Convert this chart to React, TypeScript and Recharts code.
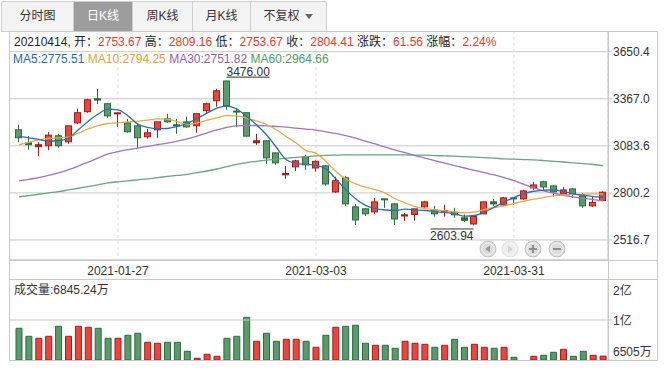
import React from "react";
import { ComposedChart, BarChart, Bar, Line, XAxis, YAxis, CartesianGrid, Cell, ReferenceLine } from "recharts";

const FONT = '"Liberation Sans", Arial, "Noto Sans CJK SC", sans-serif';
const UP = "#e8463e";
const UP_LINE = "#a11d1a";
const DOWN = "#5c9a6d";
const DOWN_LINE = "#2d6a3c";
const GRID = "#c9c9c9";

const dates = [
  "2021-01-13", "2021-01-14", "2021-01-15", "2021-01-18", "2021-01-19", "2021-01-20", "2021-01-21", "2021-01-22", "2021-01-25", "2021-01-26",
  "2021-01-27", "2021-01-28", "2021-01-29", "2021-02-01", "2021-02-02", "2021-02-03", "2021-02-04", "2021-02-05", "2021-02-08", "2021-02-09",
  "2021-02-10", "2021-02-18", "2021-02-19", "2021-02-22", "2021-02-23", "2021-02-24", "2021-02-25", "2021-02-26", "2021-03-01", "2021-03-02",
  "2021-03-03", "2021-03-04", "2021-03-05", "2021-03-08", "2021-03-09", "2021-03-10", "2021-03-11", "2021-03-12", "2021-03-15", "2021-03-16",
  "2021-03-17", "2021-03-18", "2021-03-19", "2021-03-22", "2021-03-23", "2021-03-24", "2021-03-25", "2021-03-26", "2021-03-29", "2021-03-30",
  "2021-03-31", "2021-04-01", "2021-04-02", "2021-04-06", "2021-04-07", "2021-04-08", "2021-04-09", "2021-04-12", "2021-04-13", "2021-04-14",
];

const openP = [
  3180, 3102, 3078, 3084, 3144, 3108, 3222, 3289, 3367, 3337,
  3276, 3222, 3204, 3138, 3180, 3246, 3210, 3228, 3204, 3295,
  3355, 3474, 3293, 3283, 3102, 3114, 3041, 2909, 2957, 3017,
  2950, 2963, 2806, 2891, 2716, 2704, 2686, 2764, 2734, 2661,
  2670, 2716, 2698, 2686, 2684, 2650, 2613, 2674, 2746, 2728,
  2770, 2764, 2830, 2867, 2842, 2794, 2824, 2782, 2722, 2753.67,
];
const highP = [
  3210, 3142, 3106, 3166, 3156, 3204, 3307, 3367, 3427, 3340,
  3284, 3246, 3216, 3186, 3228, 3277, 3246, 3258, 3277, 3343,
  3427, 3476, 3313, 3285, 3156, 3116, 3043, 2963, 2999, 3029,
  2996, 2969, 2897, 2903, 2734, 2710, 2770, 2766, 2736, 2680,
  2704, 2752, 2722, 2728, 2710, 2670, 2664, 2748, 2764, 2776,
  2772, 2818, 2867, 2873, 2844, 2836, 2830, 2800, 2782, 2809.16,
];
const lowP = [
  3106, 3061, 3021, 3057, 3072, 3096, 3214, 3283, 3335, 3252,
  3198, 3162, 3072, 3126, 3132, 3222, 3156, 3192, 3162, 3283,
  3319, 3301, 3196, 3138, 3090, 2975, 2969, 2885, 2933, 2939,
  2928, 2843, 2800, 2722, 2607, 2661, 2674, 2710, 2607, 2631,
  2633, 2712, 2658, 2658, 2650, 2625, 2603.94, 2672, 2722, 2722,
  2728, 2758, 2818, 2812, 2776, 2788, 2770, 2710, 2716, 2753.67,
];
const closeP = [
  3132, 3090, 3090, 3148, 3084, 3204, 3283, 3361, 3359, 3264,
  3282, 3168, 3132, 3162, 3228, 3228, 3204, 3198, 3277, 3337,
  3415, 3325, 3287, 3142, 3114, 3011, 2981, 2917, 2993, 2969,
  2990, 2854, 2873, 2734, 2637, 2674, 2746, 2758, 2643, 2668,
  2704, 2746, 2674, 2694, 2668, 2635, 2658, 2746, 2734, 2770,
  2764, 2812, 2848, 2836, 2806, 2818, 2794, 2722, 2742.85, 2804.41,
];
// 成交量, 单位: 万
const volume = [
  9275, 8576, 8402, 8576, 9450, 8576, 9450, 9363, 9275, 8402,
  8402, 8664, 8839, 8052, 7965, 8052, 8052, 7265, 6654, 7003,
  6828, 8402, 8576, 10237, 8139, 8839, 8139, 8314, 8314, 8139,
  7615, 8664, 9363, 9450, 9538, 7965, 7790, 7790, 7528, 8139,
  7965, 7877, 7615, 7790, 8314, 7615, 7877, 7615, 7528, 7615,
  6741, 6505, 6828, 6916, 7178, 7440, 6828, 7265, 6916, 6845.24,
];
const ma5 = [
  3140, 3132, 3122, 3112, 3114, 3130, 3180, 3232, 3275, 3305,
  3300, 3265, 3215, 3195, 3187, 3188, 3200, 3218, 3250, 3280,
  3310, 3323, 3305, 3260, 3210, 3150, 3075, 3000, 2978, 2972,
  2966, 2945, 2885, 2820, 2765, 2725, 2705, 2697, 2695, 2702,
  2698, 2694, 2688, 2682, 2674, 2660, 2664, 2684, 2714, 2745,
  2772, 2795, 2810, 2816, 2818, 2808, 2794, 2786, 2778, 2775.51,
];
const ma10 = [
  3090, 3105, 3120, 3128, 3132, 3136, 3160, 3185, 3205, 3218,
  3222, 3228, 3232, 3238, 3246, 3244, 3230, 3212, 3222, 3238,
  3252, 3266, 3264, 3250, 3232, 3212, 3180, 3140, 3100, 3055,
  3040, 2990, 2930, 2885, 2855, 2835, 2820, 2800, 2765, 2740,
  2718, 2706, 2698, 2692, 2686, 2680, 2684, 2700, 2712, 2722,
  2736, 2750, 2762, 2772, 2782, 2788, 2790, 2792, 2794, 2794.25,
];
const ma30 = [
  2872, 2882, 2892, 2905, 2920, 2940, 2962, 2985, 3010, 3035,
  3048, 3060, 3070, 3080, 3090, 3100, 3112, 3125, 3142, 3162,
  3180, 3195, 3204, 3206, 3206, 3204, 3200, 3196, 3190, 3184,
  3178, 3168, 3158, 3145, 3130, 3112, 3095, 3075, 3058, 3042,
  3025, 3010, 2995, 2980, 2965, 2950, 2936, 2922, 2908, 2892,
  2874, 2852, 2830, 2812, 2798, 2786, 2776, 2768, 2760, 2751.82,
];
const ma60 = [
  2776, 2784, 2792, 2800, 2808, 2818, 2828, 2838, 2849, 2860,
  2867, 2873, 2879, 2885, 2892, 2899, 2905, 2912, 2922, 2932,
  2944, 2958, 2972, 2983, 2990, 2997, 3003, 3009, 3014, 3019,
  3023, 3026, 3028, 3029, 3029, 3029, 3029, 3029, 3029, 3029,
  3028, 3027, 3025, 3023, 3021, 3018, 3015, 3012, 3009, 3005,
  3003, 3001, 2999, 2995, 2990, 2986, 2981, 2976, 2971, 2964.66,
];

const priceTicks = [2516.7, 2800.2, 3083.6, 3367.0, 3650.4];
const dateTicks = ["2021-01-27", "2021-03-03", "2021-03-31"];
const volTicks = [6505, 10000, 13580];
const volTickLabels = ["6505万", "1亿", "2亿"];
const tabs = ["分时图", "日K线", "周K线", "月K线", "不复权"];

const rows = dates.map((d, i) => ({
  date: d,
  open: openP[i],
  high: highP[i],
  low: lowP[i],
  close: closeP[i],
  range: [lowP[i], highP[i]],
  vol: volume[i],
  ma5: ma5[i],
  ma10: ma10[i],
  ma30: ma30[i],
  ma60: ma60[i],
}));

const maxHigh = Math.max(...highP);
const minLow = Math.min(...lowP);

function Candle(props: any) {
  const { x, y, width, height, payload } = props;
  if (x == null || y == null || !payload) return null;
  const { open, close, high, low } = payload;
  const up = close >= open;
  const span = high - low || 1;
  const toY = (v: number) => y + ((high - v) / span) * height;
  const cx = Math.floor(x + width / 2) + 0.5;
  const stroke = up ? UP_LINE : DOWN_LINE;
  const yTop = toY(Math.max(open, close));
  const yBot = toY(Math.min(open, close));
  const bodyH = Math.max(yBot - yTop, 1);
  const flat = bodyH < 2.5;
  return (
    <g>
      <line x1={cx} x2={cx} y1={y} y2={y + height} stroke={stroke} />
      <rect x={cx - 3} y={yTop} width={6} height={bodyH} fill={flat ? stroke : up ? UP : DOWN} stroke={stroke} />
      {high === maxHigh && (
        <g>
          <text x={cx} y={y - 5} fontSize={12} fill="#333" fontFamily={FONT}>{high.toFixed(2)}</text>
          <line x1={cx} x2={cx + 43} y1={y - 3.5} y2={y - 3.5} stroke="#333" />
        </g>
      )}
      {low === minLow && (
        <g>
          <text x={cx} y={y + height + 15} fontSize={12} fill="#333" fontFamily={FONT} textAnchor="end">{low.toFixed(2)}</text>
          <line x1={cx - 43} x2={cx} y1={y + height + 3.5} y2={y + height + 3.5} stroke="#333" />
        </g>
      )}
    </g>
  );
}

function VolTick(props: any) {
  const { x, y, payload } = props;
  const i = volTicks.indexOf(payload.value);
  const dy = [-8, 1, 12][i] ?? 0;
  return (
    <text x={x} y={y + dy} dy="0.35em" fontSize={12} fill="#333" fontFamily={FONT}>
      {volTickLabels[i]}
    </text>
  );
}

const red = { color: "#e8392f" };

export default function App() {
  const tabX = [1, 73, 132, 192, 250, 326];
  return (
    <div style={{ position: "absolute", left: 0, top: 0, width: 667, height: 373, background: "#fff", fontFamily: FONT, overflow: "hidden" }}>
      {tabs.map((t, i) => (
        <div
          key={t}
          style={{
            position: "absolute",
            left: tabX[i],
            top: 1,
            width: tabX[i + 1] - tabX[i] + 1,
            height: 31,
            boxSizing: "border-box",
            border: "1px solid #cfcfcf",
            background: i === 1 ? "#9d9d9d" : "#f3f3f3",
            color: i === 1 ? "#fff" : "#333",
            fontSize: 12,
            lineHeight: "29px",
            textAlign: "center",
          }}
        >
          {t}
          {i === 4 && (
            <svg width={9} height={6} style={{ marginLeft: 5, verticalAlign: "middle" }}>
              <path d="M0 0 L8 0 L4 5 Z" fill="#666" />
            </svg>
          )}
        </div>
      ))}

      <div style={{ position: "absolute", left: 9, top: 31 }}>
        <ComposedChart width={649} height={248} data={rows} margin={{ top: 0, right: 0, bottom: 0, left: 0 }}>
          <CartesianGrid vertical={false} stroke={GRID} />
          <CartesianGrid horizontal={false} stroke="#dddddd" strokeDasharray="3 3" />
          <XAxis
            dataKey="date"
            ticks={dateTicks}
            interval={0}
            padding={{ left: 5, right: 0 }}
            height={19}
            tickSize={0}
            tickMargin={6}
            axisLine={{ stroke: GRID }}
            tick={{ fontSize: 12, fill: "#333", fontFamily: FONT }}
          />
          <YAxis
            orientation="right"
            width={50}
            domain={[2396, 3775]}
            ticks={priceTicks}
            interval={0}
            allowDataOverflow
            tickSize={4}
            tickMargin={1}
            tickFormatter={(v: number) => v.toFixed(1)}
            axisLine={{ stroke: GRID }}
            tickLine={{ stroke: GRID }}
            tick={{ fontSize: 12, fill: "#333", fontFamily: FONT }}
          />
          <Bar dataKey="range" barSize={7} shape={<Candle />} isAnimationActive={false} />
          <Line dataKey="ma60" type="monotone" stroke="#6aa57c" strokeWidth={1.3} dot={false} isAnimationActive={false} />
          <Line dataKey="ma30" type="monotone" stroke="#a274bf" strokeWidth={1.3} dot={false} isAnimationActive={false} />
          <Line dataKey="ma10" type="monotone" stroke="#e9a94c" strokeWidth={1.3} dot={false} isAnimationActive={false} />
          <Line dataKey="ma5" type="monotone" stroke="#2f6ea8" strokeWidth={1.3} dot={false} isAnimationActive={false} />
        </ComposedChart>
      </div>

      <div style={{ position: "absolute", left: 9, top: 279 }}>
        <BarChart width={649} height={81} data={rows} margin={{ top: 0, right: 0, bottom: 0, left: 0 }}>
          <XAxis dataKey="date" hide padding={{ left: 5, right: 0 }} />
          <YAxis
            orientation="right"
            width={50}
            domain={[6505, 13580]}
            ticks={volTicks}
            interval={0}
            allowDataOverflow
            tickSize={4}
            tickMargin={1}
            tick={<VolTick />}
            axisLine={{ stroke: GRID }}
            tickLine={{ stroke: GRID }}
          />
          <ReferenceLine y={10000} stroke={GRID} />
          <Bar dataKey="vol" barSize={6} isAnimationActive={false}>
            {rows.map((r, i) => (
              <Cell key={i} fill={r.close >= r.open ? UP : DOWN} stroke={r.close >= r.open ? UP_LINE : DOWN_LINE} />
            ))}
          </Bar>
        </BarChart>
      </div>

      <div style={{ position: "absolute", left: 14, top: 34, fontSize: 12, lineHeight: "16px", color: "#222", whiteSpace: "nowrap" }}>
        20210414, 开：<span style={red}>2753.67</span> 高：<span style={red}>2809.16</span> 低：<span style={red}>2753.67</span> 收：
        <span style={red}>2804.41</span> 涨跌：<span style={red}>61.56</span> 涨幅：<span style={red}>2.24%</span>
      </div>
      <div style={{ position: "absolute", left: 13, top: 52, fontSize: 12, lineHeight: "15px", whiteSpace: "nowrap" }}>
        <span style={{ color: "#2a69a6" }}>MA5:2775.51</span> <span style={{ color: "#e3a03c" }}>MA10:2794.25</span>{" "}
        <span style={{ color: "#8f5fae" }}>MA30:2751.82</span> <span style={{ color: "#4f9a6c" }}>MA60:2964.66</span>
      </div>
      <div style={{ position: "absolute", left: 14, top: 282, fontSize: 12, lineHeight: "16px", color: "#333", whiteSpace: "nowrap" }}>
        成交量:6845.24万
      </div>

      <svg width={667} height={373} style={{ position: "absolute", left: 0, top: 0, pointerEvents: "none" }}>
        <rect x={9.5} y={31.5} width={648} height={329} fill="none" stroke={GRID} />
        <line x1={608.5} x2={608.5} y1={31} y2={361} stroke={GRID} />
        <line x1={9} x2={658} y1={260.5} y2={260.5} stroke={GRID} />
        <line x1={9} x2={658} y1={279.5} y2={279.5} stroke={GRID} />
        {[488, 510, 533, 557].map((cx, i) => (
          <g key={cx}>
            <circle cx={cx} cy={249} r={8} fill={i === 1 ? "#eeeeee" : "#dcdcdc"} stroke={i === 1 ? "#e2e2e2" : "#c4c4c4"} />
            <circle cx={cx} cy={249} r={6} fill="none" stroke="#f4f4f4" />
          </g>
        ))}
        <path d="M485 249 L490 245.5 L490 252.5 Z" fill="#9a9a9a" />
        <path d="M513 249 L508 245.5 L508 252.5 Z" fill="#d2d2d2" />
        <path d="M529 249 H537 M533 245 V253" stroke="#8e8e8e" strokeWidth={2} />
        <path d="M553 249 H561" stroke="#8e8e8e" strokeWidth={2} />
      </svg>
    </div>
  );
}
